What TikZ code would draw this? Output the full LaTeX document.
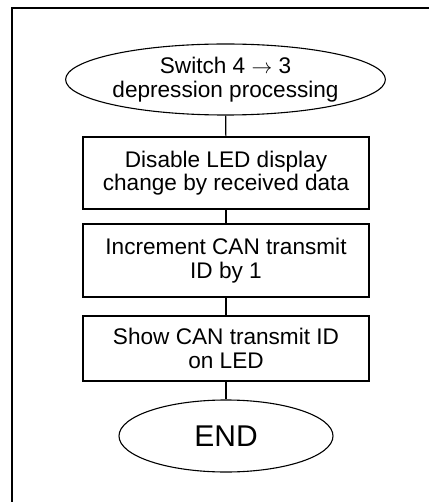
\documentclass[tikz,border=0pt]{standalone}
\usepackage{fontspec}
\setmainfont{Liberation Sans}
\usetikzlibrary{shapes.geometric}
\begin{document}
\begin{tikzpicture}[x=1pt,y=-1pt,
  flow/.style={draw=black,line width=1.1pt,align=center,inner sep=0pt,
    font=\fontsize{22.6}{23.5}\selectfont},
  term/.style={flow,ellipse},
  procbox/.style={flow,rectangle,minimum width=286pt},
  link/.style={line width=1.1pt}]
\useasboundingbox (0,0) rectangle (430,502);
% page frame (open to the right and bottom)
\draw[line width=1.6pt] (12,502) -- (12,8) -- (429,8);
% flow nodes
\node[term,minimum width=287pt,minimum height=71pt] (start) at (225.5,79.5)
  {Switch 4 $\rightarrow$ 3\\depression processing};
\node[procbox,minimum height=72pt] (s1) at (226,173)
  {Disable LED display\\change by received data};
\node[procbox,minimum height=73pt] (s2) at (226,260.5)
  {Increment CAN transmit\\ID by 1};
\node[procbox,minimum height=65pt] (s3) at (226,348.5)
  {Show CAN transmit ID\\on LED};
\node[term,minimum width=214pt,minimum height=72pt,
  font=\fontsize{30}{36}\selectfont] (end) at (226,436) {END};
% connectors
\draw[link] (start) -- (s1);
\draw[link] (s1) -- (s2);
\draw[link] (s2) -- (s3);
\draw[link] (s3) -- (end);
\end{tikzpicture}
\end{document}
